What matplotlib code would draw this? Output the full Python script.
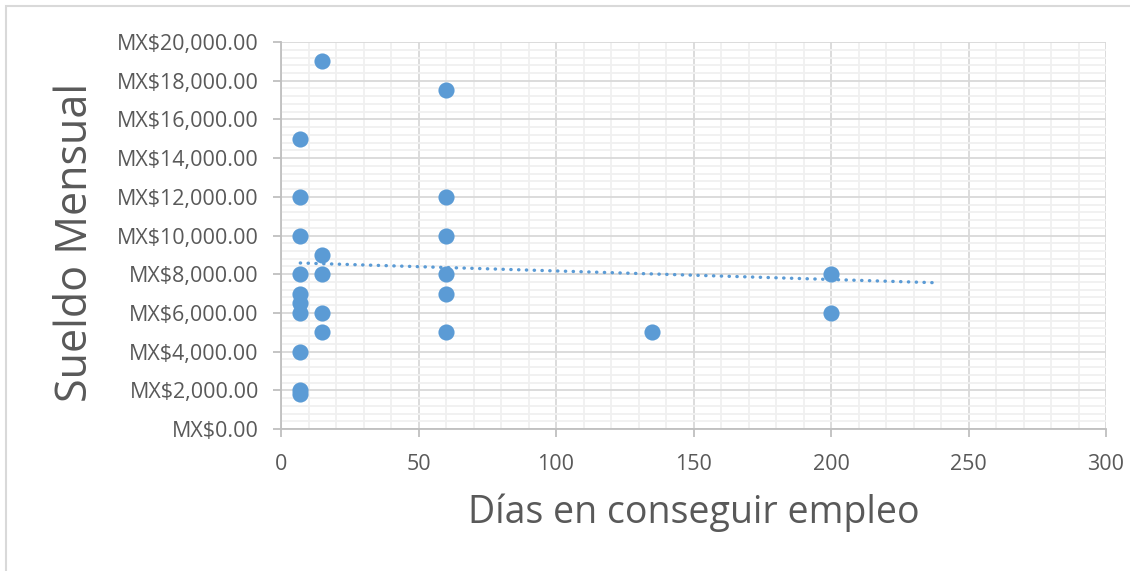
import numpy as np
import matplotlib.pyplot as plt
from matplotlib.ticker import MultipleLocator, FuncFormatter
from matplotlib.patches import Rectangle

plt.rcParams['font.family'] = ['Open Sans', 'DejaVu Sans']

# dias hasta conseguir empleo y sueldo mensual (MXN)
dias = [15, 60, 7, 7, 60, 7, 60, 15, 7, 15, 60, 200, 7, 60, 7,
        7, 15, 200, 15, 60, 135, 7, 7, 7]
sueldo = [19000, 17500, 15000, 12000, 12000, 10000, 10000, 9000, 8000, 8000, 8000, 8000, 7000, 7000, 6500,
          6000, 6000, 6000, 5000, 5000, 5000, 4000, 2000, 1800]

# linea de tendencia lineal (y = pendiente * x + ordenada), pronostico hasta x = 238
pendiente = -4.42
ordenada = 8611
tend_x = [7, 238]

azul = '#5b9bd5'
gris = '#595959'

fig = plt.figure(figsize=(11.3, 5.71), dpi=100)
ax = fig.add_axes([0.2487, 0.2487, 0.7301, 0.6777])

ax.scatter(dias, sueldo, s=135, color=azul, zorder=3, linewidths=0)

xt = np.array(tend_x)
ax.plot(xt, pendiente * xt + ordenada, color=azul, lw=2.4, ls=(0, (0.1, 2.24)),
        dash_capstyle='round', zorder=2)

ax.set_xlim(0, 300)
ax.set_ylim(0, 20000)
ax.xaxis.set_major_locator(MultipleLocator(50))
ax.xaxis.set_minor_locator(MultipleLocator(10))
ax.yaxis.set_major_locator(MultipleLocator(2000))
ax.yaxis.set_minor_locator(MultipleLocator(400))
ax.yaxis.set_major_formatter(FuncFormatter(lambda v, p: f'MX${v:,.2f}'))

ax.grid(which='major', color='#d9d9d9', lw=1.3, zorder=0)
ax.grid(which='minor', color='#f0f0f0', lw=1.3, zorder=0)
ax.set_axisbelow(True)

for s in ['top', 'right']:
    ax.spines[s].set_visible(False)
for s in ['left', 'bottom']:
    ax.spines[s].set_color('#bfbfbf')
    ax.spines[s].set_linewidth(1.3)

ax.tick_params(which='major', length=6, width=1.3, color='#bfbfbf',
               labelsize=15.5, labelcolor=gris)
ax.tick_params(which='minor', length=0)
ax.tick_params(axis='y', pad=10)
ax.tick_params(axis='x', pad=12)

fig.text(694 / 1130, 1 - 513 / 571, 'Días en conseguir empleo', fontsize=27,
         color=gris, ha='center', va='center')
fig.text(76 / 1130, 1 - 242 / 571, 'Sueldo Mensual', fontsize=31,
         color=gris, ha='center', va='center', rotation=90)

# marco del area del grafico
fig.patches.append(Rectangle((6 / 1130, -0.1), 1.2, 1 - 6 / 571 + 0.1,
                             transform=fig.transFigure, fill=False,
                             edgecolor='#d9d9d9', lw=1.5))

fig.savefig('out.png', dpi=100)
